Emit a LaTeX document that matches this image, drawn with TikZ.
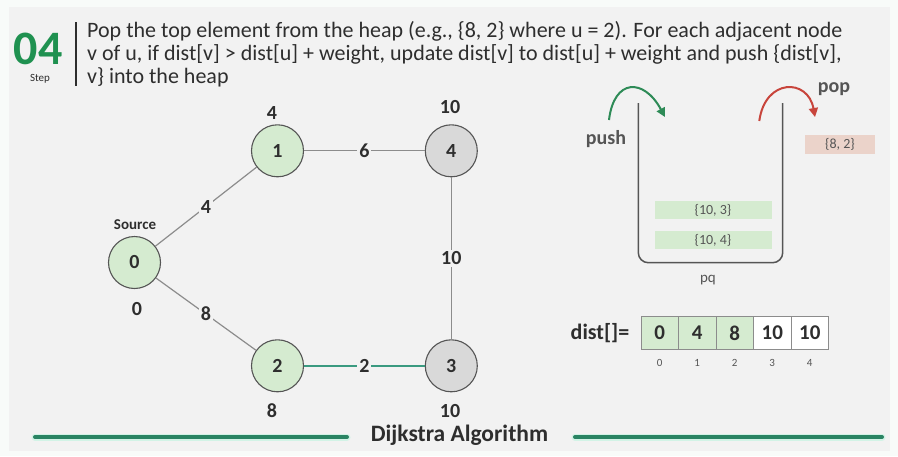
\documentclass[tikz,border=0pt]{standalone}
\usepackage{fontspec}
\setmainfont{Carlito}
\usetikzlibrary{arrows.meta,calc}

\definecolor{bg}{HTML}{F2F2F2}
\definecolor{frame}{HTML}{F8FBF9}
\definecolor{stepgreen}{HTML}{1F9150}
\definecolor{ink}{HTML}{2E2E2E}
\definecolor{soft}{HTML}{555555}
\definecolor{visited}{HTML}{D5EBD0}
\definecolor{unvisited}{HTML}{D9D9D9}
\definecolor{ring}{HTML}{555555}
\definecolor{edgegrey}{HTML}{8C8C8C}
\definecolor{relaxed}{HTML}{3A9A80}
\definecolor{pushgreen}{HTML}{2E8B57}
\definecolor{popred}{HTML}{C8453C}
\definecolor{popped}{HTML}{EBD3CA}
\definecolor{barteal}{HTML}{2A8463}
\definecolor{barhalo}{HTML}{D2F3E6}

\tikzset{
  fs/.style={font=\fontsize{#1}{#1}\selectfont},
  fsb/.style={font=\fontsize{#1}{#1}\selectfont\bfseries},
  vertex/.style={circle, draw=ring, line width=1.1pt, minimum size=52pt,
                 inner sep=0pt, fsb=20, text=ink},
  done/.style={vertex, fill=visited},
  todo/.style={vertex, fill=unvisited},
  link/.style={draw=edgegrey, line width=1.2pt},
  hot/.style={draw=relaxed, line width=2.4pt},
  weight/.style={fill=bg, inner sep=2pt, fsb=20, text=ink},
  tag/.style={fsb=20, text=ink, inner sep=0pt},
  heapitem/.style={minimum width=117pt, minimum height=18.5pt, inner sep=0pt,
                   fill=visited, fs=14, text=soft},
  cell/.style={draw=edgegrey, line width=0.8pt, minimum width=37.5pt,
               minimum height=32.6pt, inner sep=0pt, fsb=21, text=ink},
  idx/.style={fs=11, text=soft, inner sep=0pt},
  headline/.style={anchor=base west, inner sep=0pt, fs=22, text=ink},
  swing/.style={line width=2pt, -{Triangle[length=9pt,width=9pt]}},
  rule/.style={line width=4pt, draw=barteal, line cap=round},
  rulehalo/.style={line width=7pt, draw=barhalo, line cap=round},
}

\begin{document}
\begin{tikzpicture}[x=1pt,y=-1pt]
  % canvas
  \fill[frame] (0,0) rectangle (898,456);
  \fill[bg] (9,7) rectangle (890,451);
  \useasboundingbox (0,0) rectangle (898,456);

  % step header
  \node[fsb=48, text=stepgreen, inner sep=0pt, text depth=0pt, anchor=base] (stepno) at (38,64) {04};
  \node[fs=11, text=ink, inner sep=0pt] (steplbl) at (40,79) {Step};
  \coordinate (sepTop) at (76,22);
  \coordinate (sepBot) at (76,86);
  \draw[ink, line width=1.5pt] (sepTop) -- (sepBot);
  \node[headline] (h1) at (87,37)
    {Pop the top element from the heap (e.g., \{8, 2\} where u = 2). For each adjacent node};
  \node[headline] (h2) at (87,60)
    {v of u, if dist[v] > dist[u] + weight, update dist[v] to dist[u] + weight and push \{dist[v],};
  \node[headline] (h3) at (87,83) {v\} into the heap};

  % graph
  \node[done] (n0) at (134.5,262.5) {0};
  \node[done] (n1) at (277.5,150.8) {1};
  \node[todo] (n4) at (451.3,150.8) {4};
  \node[done] (n2) at (277.5,365.8) {2};
  \node[todo] (n3) at (451.3,365.8) {3};

  \path[link] (n0) -- node[weight] (w01) {4} (n1);
  \path[link] (n1) -- node[weight] (w14) {6} (n4);
  \path[link] (n4) -- node[weight] (w43) {10} (n3);
  \path[link] (n0) -- node[weight] (w02) {8} (n2);
  \path[hot]  (n2) -- node[weight] (w23) {2} (n3);

  \node[fsb=15, text=ink, inner sep=0pt] (src) at (135,225) {Source};
  \node[tag] (d1) at (272,113) {4};
  \node[tag] (d4) at (450,107) {10};
  \node[tag] (d0) at (137,309) {0};
  \node[tag] (d2) at (272,411) {8};
  \node[tag] (d3) at (450,411) {10};

  % priority queue
  \coordinate (pqTL) at (638.3,103);
  \coordinate (pqBL) at (638.3,262.7);
  \coordinate (pqBR) at (782.7,262.7);
  \coordinate (pqTR) at (782.7,103);
  \draw[soft, line width=1.5pt, rounded corners=10pt]
    (pqTL) -- (pqBL) -- (pqBR) -- (pqTR);

  \coordinate (pushFrom) at (609,120);
  \coordinate (pushTo) at (665,117);
  \draw[swing, pushgreen] (pushFrom) .. controls (614,78) and (644,78) .. (pushTo);
  \coordinate (popFrom) at (759.3,121);
  \coordinate (popTo) at (815,117);
  \draw[swing, popred] (popFrom) .. controls (765,78) and (808,78) .. (popTo);

  \node[fsb=20, text=soft, inner sep=0pt] (pushlbl) at (606,139) {push};
  \node[fsb=20, text=soft, inner sep=0pt] (poplbl) at (834,89) {pop};
  \node[heapitem, fill=popped, minimum width=70pt, minimum height=19pt] (out) at (840,144.5) {\{8, 2\}};
  \node[heapitem] (q1) at (713,210) {\{10, 3\}};
  \node[heapitem] (q2) at (713,240) {\{10, 4\}};
  \node[fs=15, text=soft, inner sep=0pt] (pqlbl) at (708,280) {pq};

  % distance array
  \node[fsb=22, text=ink, inner sep=0pt, anchor=east] (distlbl) at (629.5,333) {dist[]=};
  \node[cell, fill=visited] (c0) at (659.75,333) {0};
  \node[cell, fill=visited] (c1) at (697.25,333) {4};
  \node[cell, fill=visited] (c2) at (734.75,333) {8};
  \node[cell, fill=white]   (c3) at (772.25,333) {10};
  \node[cell, fill=white]   (c4) at (809.75,333) {10};
  \foreach \i in {0,...,4} {
    \node[idx] (i\i) at ($(c\i.center)+(0,30)$) {\i};
  }

  % footer
  \coordinate (lA) at (35,437);
  \coordinate (lB) at (347,437);
  \coordinate (rA) at (575,437);
  \coordinate (rB) at (882,437);
  \draw[rulehalo] (lA) -- (lB);
  \draw[rulehalo] (rA) -- (rB);
  \draw[rule] (lA) -- (lB);
  \draw[rule] (rA) -- (rB);
  \node[fsb=23.5, text=ink, inner sep=0pt] (title) at (459.5,435) {Dijkstra Algorithm};
\end{tikzpicture}
\end{document}
